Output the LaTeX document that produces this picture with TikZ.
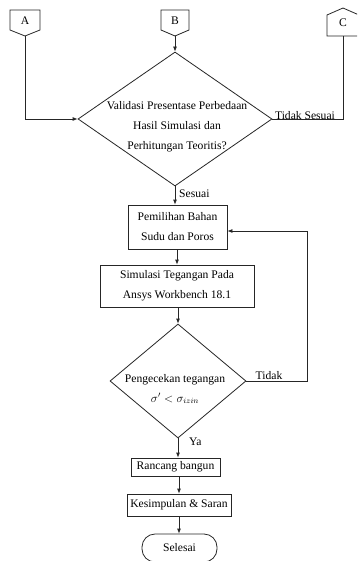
\documentclass[tikz,border=0pt]{standalone}
\usepackage{fontspec}
\setmainfont{Liberation Serif}
\usetikzlibrary{shapes.geometric,arrows.meta}
\newcommand\flowtxt{\fontsize{11.6}{20}\selectfont}
\begin{document}
\begin{tikzpicture}[x=1pt,y=-1pt,
  line/.style={draw=black!85, line width=0.8pt},
  arr/.style={line, -{Latex[length=5pt,width=4pt]}},
  box/.style={line, rectangle, inner sep=0pt, align=center, font=\flowtxt},
  decision/.style={line, diamond, inner sep=0pt, aspect=1},
  term/.style={line, rectangle, rounded corners=13pt, inner sep=0pt, font=\flowtxt},
  lab/.style={font=\flowtxt, inner sep=1pt},
  conn/.style={font=\flowtxt, inner sep=0pt}
]
\useasboundingbox (0,0) rectangle (357,561);
\clip (0,0) rectangle (357,561);
\fill[white] (0,0) rectangle (357,561);

% off-page connectors
\draw[line] (10,10) -- (40,10) -- (40,30) -- (25,36) -- (10,30) -- cycle;
\node[conn] (A) at (25,21) {A};
\coordinate (Aout) at (25,36);
\draw[line] (161,10) -- (189,10) -- (189,30) -- (175,36) -- (161,30) -- cycle;
\node[conn] (B) at (175,21) {B};
\coordinate (Bout) at (175,36);
\draw[line] (327,36) -- (327,15) -- (343,8) -- (359,15) -- (359,36) -- cycle;
\node[conn] (C) at (343,23) {C};
\coordinate (Cin) at (343,36);

% decision 1
\node[decision, minimum width=194pt, minimum height=134pt] (d1) at (175,119) {};
\node[align=center, font=\flowtxt, inner sep=0pt] (d1t) at (177,127) {Validasi Presentase Perbedaan\\Hasil Simulasi dan\\Perhitungan Teoritis?};

% process boxes
\node[box, minimum width=99pt, minimum height=44pt] (b1) at (177.5,227) {Pemilihan Bahan\\Sudu dan Poros};
\node[box, minimum width=154pt, minimum height=42pt] (b2) at (177,286) {Simulasi Tegangan Pada\\Ansys Workbench 18.1};

% decision 2
\node[decision, minimum width=136pt, minimum height=114pt] (d2) at (178,381) {};
\node[align=center, font=\flowtxt, inner sep=0pt] (d2t) at (175,389) {Pengecekan tegangan\\$\sigma' < \sigma_{izin}$};

\node[box, minimum width=89pt, minimum height=18pt] (b3) at (175.5,467) {Rancang bangun};
\node[box, minimum width=104pt, minimum height=22pt] (b4) at (179,505) {Kesimpulan \& Saran};
\node[term, minimum width=75pt, minimum height=28pt] (end) at (179.5,548) {Selesai};

% connectors
\draw[arr] (Aout) |- (d1.west);
\draw[arr] (Bout) -- (d1.north);
\draw[line] (d1.east) -| (Cin);
\node[lab, anchor=south] (ts) at (305,121) {Tidak Sesuai};

\draw[arr] (d1.south) -- (d1.south |- b1.north);
\node[lab, anchor=west] (s) at (178,194) {Sesuai};

\draw[arr] (b1.south -| 177,0) -- (b2.north -| 177,0);
\draw[arr] (b2.south -| 178,0) -- (d2.north);

\draw[arr] (d2.east) -| (307,231) -- (b1.east |- 307,231);
\node[lab, anchor=south] (td) at (269,381) {Tidak};

\draw[arr] (d2.south) -- (d2.south |- b3.north);
\node[lab, anchor=west] (ya) at (188,442) {Ya};

\draw[arr] (b3.south -| 179,0) -- (b4.north -| 179,0);
\draw[arr] (b4.south -| 179,0) -- (end.north -| 179,0);
\end{tikzpicture}
\end{document}
